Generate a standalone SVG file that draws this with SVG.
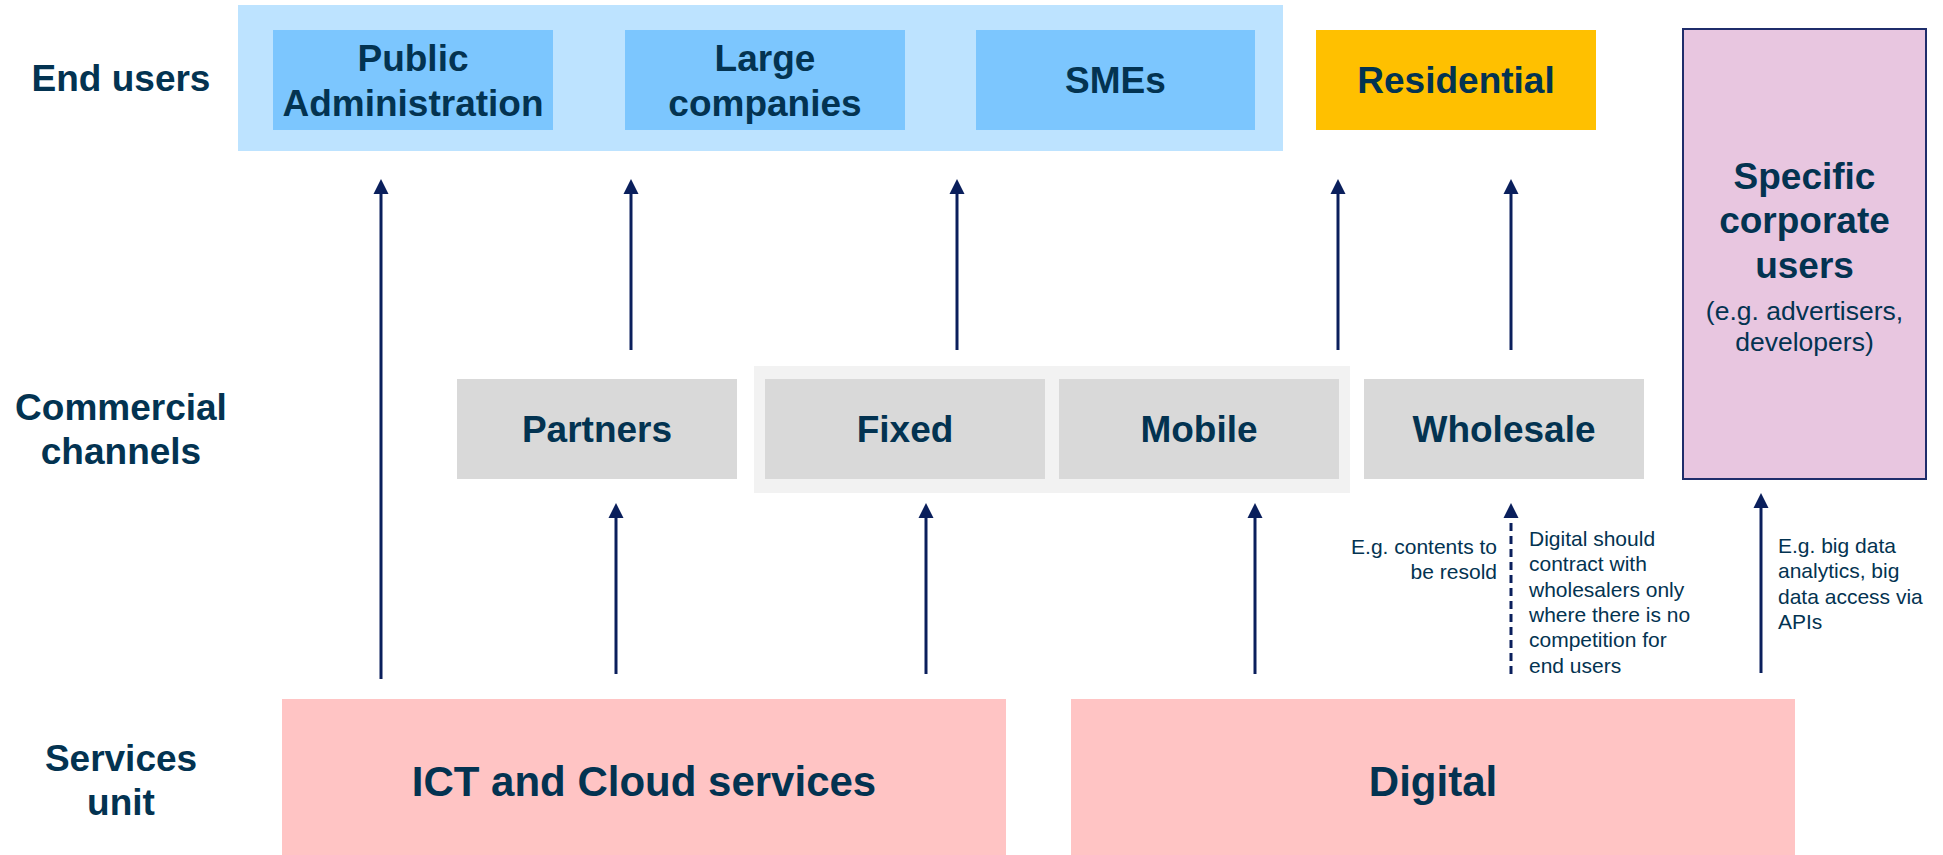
<svg xmlns="http://www.w3.org/2000/svg" width="1943" height="855" viewBox="0 0 1943 855">
<style>
.lbl{font-family:"Liberation Sans",Arial,sans-serif;font-weight:bold;font-size:37px;fill:#033351;text-anchor:middle}
.big{font-family:"Liberation Sans",Arial,sans-serif;font-weight:bold;font-size:42px;fill:#033351;text-anchor:middle}
.sub{font-family:"Liberation Sans",Arial,sans-serif;font-size:26.5px;fill:#033351;text-anchor:middle}
.note{font-family:"Liberation Sans",Arial,sans-serif;font-size:21px;fill:#033351}
.arr{stroke:#0A1F5C;stroke-width:3;fill:none}
.dash{stroke:#0A1F5C;stroke-width:3;fill:none;stroke-dasharray:8 5}
.blue{fill:#7CC6FE}
.gray{fill:#D9D9D9}
.pink{fill:#FFC4C4}
</style>
<defs>
<marker id="ah" markerUnits="userSpaceOnUse" markerWidth="16" markerHeight="16" refX="0" refY="7.5" orient="auto" overflow="visible">
<path d="M0,0 L15,7.5 L0,15 Z" fill="#0A1F5C"/>
</marker>
</defs>
<rect width="1943" height="855" fill="#FFFFFF"/>

<g id="row-labels">
<text class="lbl" x="121" y="91">End users</text>
<text class="lbl" x="121" y="420">Commercial</text>
<text class="lbl" x="121" y="464">channels</text>
<text class="lbl" x="121" y="771">Services</text>
<text class="lbl" x="121" y="815">unit</text>
</g>

<g id="business-users">
<rect x="238" y="5" width="1045" height="146" fill="#BDE3FF"/>
</g>
<g id="public-administration">
<rect class="blue" x="273" y="30" width="280" height="100"/>
<text class="lbl" x="413" y="71">Public</text>
<text class="lbl" x="413" y="116">Administration</text>
</g>
<g id="large-companies">
<rect class="blue" x="625" y="30" width="280" height="100"/>
<text class="lbl" x="765" y="71">Large</text>
<text class="lbl" x="765" y="116">companies</text>
</g>
<g id="smes">
<rect class="blue" x="976" y="30" width="279" height="100"/>
<text class="lbl" x="1115.5" y="93">SMEs</text>
</g>
<g id="residential">
<rect x="1316" y="30" width="280" height="100" fill="#FFC000"/>
<text class="lbl" x="1456" y="93">Residential</text>
</g>
<g id="specific-corporate-users">
<rect x="1683" y="29" width="243" height="450" fill="#E8C6E0" stroke="#1F2D6B" stroke-width="2"/>
<text class="lbl" x="1804.5" y="189">Specific</text>
<text class="lbl" x="1804.5" y="233">corporate</text>
<text class="lbl" x="1804.5" y="278">users</text>
<text class="sub" x="1804.5" y="320">(e.g. advertisers,</text>
<text class="sub" x="1804.5" y="351">developers)</text>
</g>

<g id="partners">
<rect class="gray" x="457" y="379" width="280" height="100"/>
<text class="lbl" x="597" y="442">Partners</text>
</g>
<g id="own-channels">
<rect x="754" y="366" width="596" height="127" fill="#F2F2F2"/>
</g>
<g id="fixed">
<rect class="gray" x="765" y="379" width="280" height="100"/>
<text class="lbl" x="905" y="442">Fixed</text>
</g>
<g id="mobile">
<rect class="gray" x="1059" y="379" width="280" height="100"/>
<text class="lbl" x="1199" y="442">Mobile</text>
</g>
<g id="wholesale">
<rect class="gray" x="1364" y="379" width="280" height="100"/>
<text class="lbl" x="1504" y="442">Wholesale</text>
</g>

<g id="ict-cloud">
<rect class="pink" x="282" y="699" width="724" height="156"/>
<text class="big" x="644" y="796">ICT and Cloud services</text>
</g>
<g id="digital">
<rect class="pink" x="1071" y="699" width="724" height="156"/>
<text class="big" x="1433" y="796">Digital</text>
</g>

<g id="connectors">
<line class="arr" x1="381" y1="679" x2="381" y2="194" marker-end="url(#ah)"/>
<line class="arr" x1="631" y1="350" x2="631" y2="194" marker-end="url(#ah)"/>
<line class="arr" x1="957" y1="350" x2="957" y2="194" marker-end="url(#ah)"/>
<line class="arr" x1="1338" y1="350" x2="1338" y2="194" marker-end="url(#ah)"/>
<line class="arr" x1="1511" y1="350" x2="1511" y2="194" marker-end="url(#ah)"/>
<line class="arr" x1="616" y1="674" x2="616" y2="518" marker-end="url(#ah)"/>
<line class="arr" x1="926" y1="674" x2="926" y2="518" marker-end="url(#ah)"/>
<line class="arr" x1="1255" y1="674" x2="1255" y2="518" marker-end="url(#ah)"/>
<line class="dash" x1="1511" y1="674" x2="1511" y2="518" marker-end="url(#ah)"/>
<line class="arr" x1="1761" y1="673" x2="1761" y2="508" marker-end="url(#ah)"/>
<text class="note" text-anchor="end" x="1497" y="554">E.g. contents to</text>
<text class="note" text-anchor="end" x="1497" y="579">be resold</text>
<text class="note" x="1529" y="546">Digital should</text>
<text class="note" x="1529" y="571.3">contract with</text>
<text class="note" x="1529" y="596.6">wholesalers only</text>
<text class="note" x="1529" y="621.9">where there is no</text>
<text class="note" x="1529" y="647.2">competition for</text>
<text class="note" x="1529" y="672.5">end users</text>
<text class="note" x="1778" y="553">E.g. big data</text>
<text class="note" x="1778" y="578.3">analytics, big</text>
<text class="note" x="1778" y="603.6">data access via</text>
<text class="note" x="1778" y="628.9">APIs</text>
</g>
</svg>
